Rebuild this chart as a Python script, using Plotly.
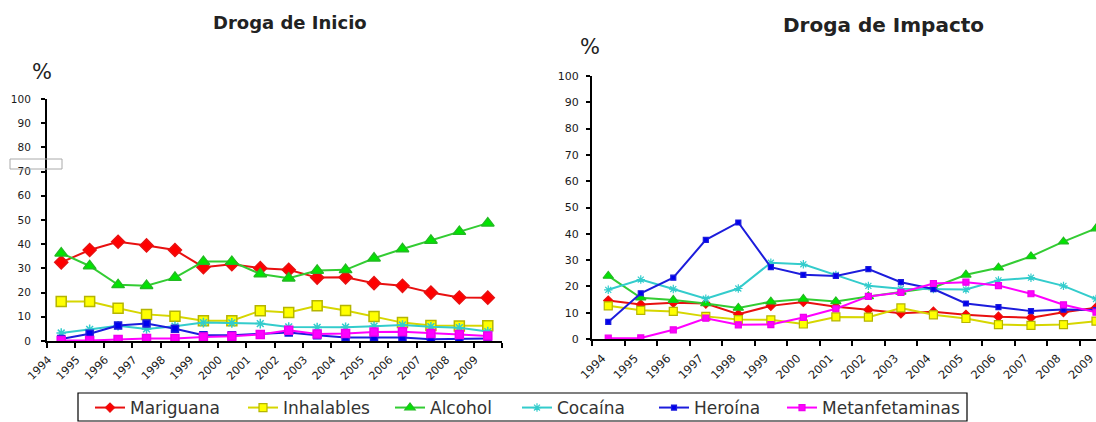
import plotly.graph_objects as go

# Categories (years)
years = ["1994", "1995", "1996", "1997", "1998", "1999", "2000", "2001",
         "2002", "2003", "2004", "2005", "2006", "2007", "2008", "2009"]

# Droga de Inicio (%)
mar_ini = [32.5, 37.6, 41.0, 39.5, 37.6, 30.5, 31.7, 30.1, 29.4, 26.2, 26.3, 23.9, 22.8, 20.0, 18.0, 17.9]
inh_ini = [16.3, 16.3, 13.5, 11.0, 10.2, 8.4, 8.4, 12.5, 11.8, 14.6, 12.6, 10.1, 7.6, 6.4, 6.2, 6.3]
alc_ini = [36.3, 31.0, 23.2, 22.8, 26.2, 32.8, 32.8, 27.7, 25.9, 29.1, 29.4, 34.2, 38.0, 41.5, 45.2, 48.7]
coc_ini = [3.3, 4.8, 6.3, 5.0, 6.1, 7.6, 7.5, 7.2, 5.8, 5.6, 5.7, 6.1, 6.6, 5.9, 5.5, 3.9]
her_ini = [0.8, 3.0, 6.4, 7.2, 5.1, 2.4, 2.4, 2.8, 3.5, 2.4, 1.4, 1.4, 1.4, 0.7, 1.0, 1.0]
met_ini = [0.2, 0.2, 0.6, 1.0, 1.0, 1.7, 2.0, 2.7, 4.4, 2.9, 3.1, 3.7, 3.8, 3.1, 2.7, 2.1]

# Droga de Impacto (%)
mar_imp = [14.6, 13.1, 13.8, 13.5, 9.4, 12.6, 14.1, 12.3, 11.1, 9.8, 10.4, 9.2, 8.5, 8.1, 10.2, 11.9]
inh_imp = [12.6, 10.9, 10.5, 8.6, 7.4, 7.3, 5.7, 8.4, 8.3, 11.8, 9.2, 7.8, 5.5, 5.2, 5.5, 6.8]
alc_imp = [24.0, 15.7, 14.8, 13.5, 11.8, 14.2, 15.2, 14.3, 16.2, 17.9, 19.6, 24.4, 27.1, 31.4, 37.0, 42.0]
coc_imp = [18.7, 22.6, 19.0, 15.3, 19.2, 29.0, 28.4, 24.4, 20.2, 19.1, 19.0, 18.8, 22.3, 23.3, 20.2, 15.2]
her_imp = [6.5, 17.4, 23.3, 37.7, 44.3, 27.3, 24.4, 24.0, 26.6, 21.6, 19.0, 13.5, 12.1, 10.6, 11.2, 11.0]
met_imp = [0.3, 0.4, 3.5, 7.9, 5.4, 5.5, 8.2, 11.5, 16.2, 17.7, 21.1, 21.6, 20.3, 17.2, 13.0, 10.2]

series_names = ["Mariguana", "Inhalables", "Alcohol", "Cocaína", "Heroína", "Metanfetaminas"]
inicio = [mar_ini, inh_ini, alc_ini, coc_ini, her_ini, met_ini]
impacto = [mar_imp, inh_imp, alc_imp, coc_imp, her_imp, met_imp]

# Per-series styling: line colour, marker symbol, marker fill, marker outline
styles = [
    dict(line="#e81010", symbol="diamond", fill="#ff0000", edge="#e81010"),
    dict(line="#d6d600", symbol="square", fill="#ffff00", edge="#b5b500"),
    dict(line="#33cc33", symbol="triangle-up", fill="#00e600", edge="#22bb22"),
    dict(line="#33cccc", symbol="asterisk-open", fill="#33cccc", edge="#33cccc"),
    dict(line="#1c1cdc", symbol="square", fill="#0000ee", edge="#1c1cdc"),
    dict(line="#ff00ff", symbol="square", fill="#ff00ff", edge="#ee00ee"),
]
left_sizes = [10, 10, 11, 8, 7, 8]
right_sizes = [7, 8, 9, 7, 5, 6]

# Horizontal pixel where each legend entry begins
legend_ids = ["legend", "legend2", "legend3", "legend4", "legend5", "legend6"]
legend_px = [90, 243, 390, 517, 654, 782]

W, H = 1096, 422

fig = go.Figure()

for name, vals, st, sz in zip(series_names, inicio, styles, left_sizes):
    fig.add_trace(go.Scatter(
        x=years, y=vals, name=name, mode="lines+markers",
        xaxis="x", yaxis="y", showlegend=False,
        line=dict(color=st["line"], width=2),
        marker=dict(symbol=st["symbol"], size=sz, color=st["fill"],
                    line=dict(color=st["edge"], width=1.5)),
    ))

for name, vals, st, sz, lid in zip(series_names, impacto, styles, right_sizes, legend_ids):
    fig.add_trace(go.Scatter(
        x=years, y=vals, name=name, mode="lines+markers",
        xaxis="x2", yaxis="y2", showlegend=True, legend=lid,
        line=dict(color=st["line"], width=2),
        marker=dict(symbol=st["symbol"], size=sz, color=st["fill"],
                    line=dict(color=st["edge"], width=1.2)),
    ))

tick_font_l = dict(family="DejaVu Sans", size=10.5, color="#1a1a1a")
tick_font_r = dict(family="DejaVu Sans", size=11, color="#1a1a1a")
xtick_font_l = dict(family="DejaVu Sans", size=11, color="#1a1a1a")
xtick_font_r = dict(family="DejaVu Sans", size=11.5, color="#1a1a1a")

common_x = dict(type="category", showline=True, linecolor="black", linewidth=2,
                ticks="outside", tickson="boundaries", ticklen=5, tickwidth=1.5,
                tickcolor="black", tickangle=-45, showgrid=False, zeroline=False,
                automargin=False, fixedrange=True, ticklabelstandoff=6)
common_y = dict(range=[0, 100], tickvals=list(range(0, 101, 10)), showline=True,
                linecolor="black", linewidth=2, ticks="outside", ticklen=4,
                tickwidth=1.5, tickcolor="black", showgrid=False, zeroline=False,
                automargin=False)

layout_legends = {}
for lid, px in zip(legend_ids, legend_px):
    layout_legends[lid] = dict(
        orientation="h", x=px / W, xanchor="left",
        y=(H - 408) / H, yanchor="middle",
        font=dict(family="DejaVu Sans", size=17, color="#333333"),
        bgcolor="rgba(0,0,0,0)", borderwidth=0, itemwidth=30,
    )

fig.update_layout(
    width=W, height=H,
    margin=dict(l=0, r=0, t=0, b=0, pad=0, autoexpand=False),
    paper_bgcolor="white", plot_bgcolor="white",
    xaxis=dict(domain=[47 / W, 502 / W], anchor="y", range=[-0.5, 15.5],
               tickfont=xtick_font_l, ticklabelshift=-13, **common_x),
    yaxis=dict(domain=[(H - 341) / H, (H - 99) / H], anchor="x",
               tickfont=tick_font_l, ticklabelstandoff=8, **common_y),
    xaxis2=dict(domain=[592 / W, 1.0], anchor="y2", range=[-0.5, 15.0],
                tickfont=xtick_font_r, ticklabelshift=-6, **common_x),
    yaxis2=dict(domain=[(H - 339) / H, (H - 76) / H], anchor="x2",
                tickfont=tick_font_r, ticklabelstandoff=5, **common_y),
    showlegend=True,
    **layout_legends,
)

# Titles and unit labels
fig.add_annotation(text="<b>Droga de Inicio</b>", x=290 / W, y=(H - 23) / H, xref="paper", yref="paper",
                   showarrow=False, font=dict(family="DejaVu Sans", size=18, color="#222222"),
                   xanchor="center", yanchor="middle")
fig.add_annotation(text="<b>Droga de Impacto</b>", x=883 / W, y=(H - 25) / H, xref="paper", yref="paper",
                   showarrow=False, font=dict(family="DejaVu Sans", size=20, color="#222222"),
                   xanchor="center", yanchor="middle")
fig.add_annotation(text="%", x=42 / W, y=(H - 72) / H, xref="paper", yref="paper",
                   showarrow=False, font=dict(family="DejaVu Sans", size=21, color="#222222"),
                   xanchor="center", yanchor="middle")
fig.add_annotation(text="%", x=590 / W, y=(H - 47) / H, xref="paper", yref="paper",
                   showarrow=False, font=dict(family="DejaVu Sans", size=21, color="#222222"),
                   xanchor="center", yanchor="middle")

# Legend frame and the stray outline box near the left axis
fig.add_shape(type="rect", xref="paper", yref="paper",
              x0=78 / W, x1=967 / W, y0=(H - 421) / H, y1=(H - 393) / H,
              line=dict(color="black", width=1.2), fillcolor="rgba(0,0,0,0)")
fig.add_shape(type="rect", xref="paper", yref="paper",
              x0=10 / W, x1=62 / W, y0=(H - 169) / H, y1=(H - 159) / H,
              line=dict(color="#aaaaaa", width=1), fillcolor="rgba(0,0,0,0)")

fig.write_html("out.html")
